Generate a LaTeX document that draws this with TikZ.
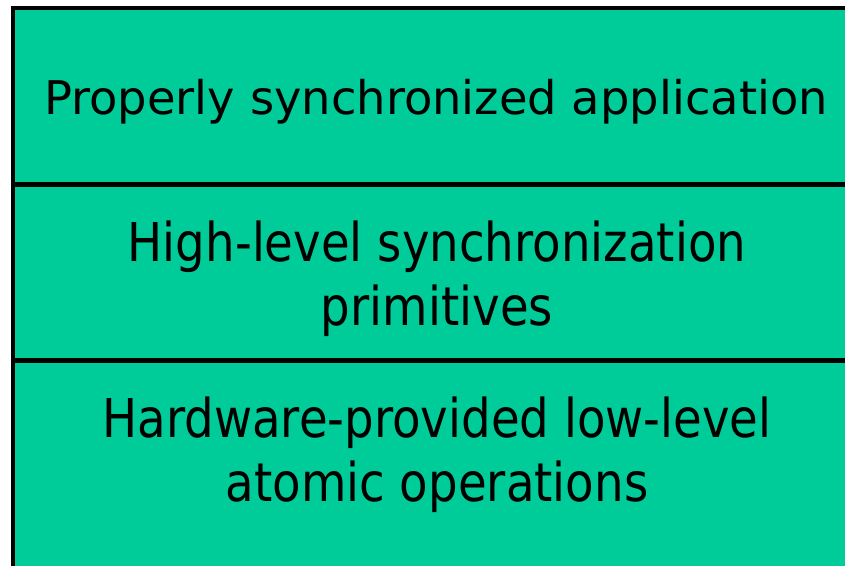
\documentclass[tikz,border=0pt]{standalone}
\usepackage{fontspec}
\setmainfont{DejaVu Sans}
\newfontfamily\narrowfont{DejaVu Sans}[FakeStretch=0.872]
\definecolor{layergreen}{RGB}{0,204,153}
\begin{document}
\begin{tikzpicture}[x=1pt,y=-1pt,
  layertext/.style={align=center,inner sep=0pt,text=black},
  big/.style={font=\narrowfont\fontsize{53.5}{63.3}\selectfont},
  small/.style={font=\fontsize{46.4}{55}\selectfont},
  rule/.style={line width=4.5pt,draw=black}]
\useasboundingbox (0,0) rectangle (845,565);
\begin{scope}
\clip (0,0) rectangle (845,565);
\fill[layergreen] (13,8) rectangle (861,600);
\draw[rule] (13,600) -- (13,8) -- (861,8) -- (861,600);
\coordinate (d1l) at (13,184.5);
\coordinate (d1r) at (861,184.5);
\coordinate (d2l) at (13,360.5);
\coordinate (d2r) at (861,360.5);
\draw[rule] (d1l) -- (d1r);
\draw[rule] (d2l) -- (d2r);
\end{scope}
\node[layertext,small,anchor=base] (app) at (436,114.3) {Properly synchronized application};
\node[layertext,big,anchor=base] (prim) at (437,325) {High-level synchronization\\primitives};
\node[layertext,big,anchor=base] (hw) at (437,501) {Hardware-provided low-level\\atomic operations};
\end{tikzpicture}
\end{document}
